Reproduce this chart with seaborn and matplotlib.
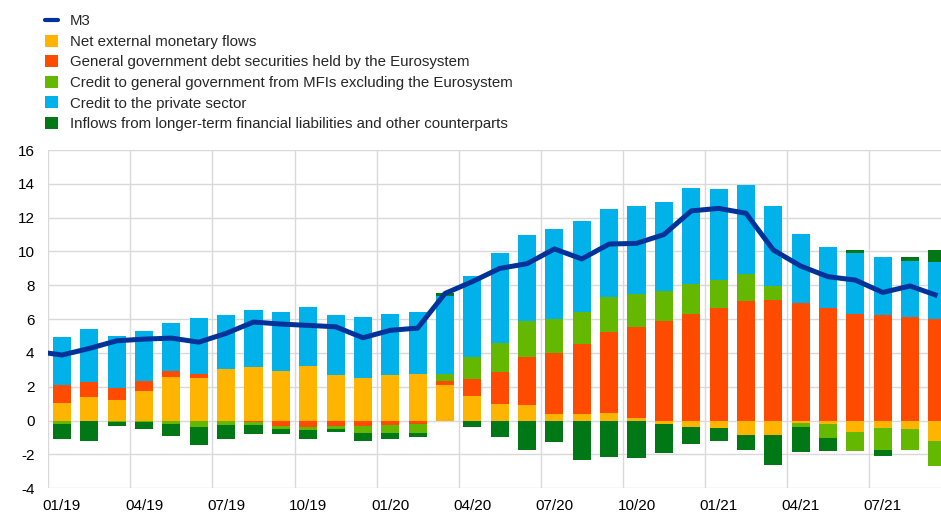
import numpy as np
import pandas as pd
import matplotlib
matplotlib.use("Agg")
import matplotlib.pyplot as plt
from matplotlib.lines import Line2D
from matplotlib.patches import Patch
import seaborn as sns

# ---------------- data ----------------
months = ["01/19", "02/19", "03/19", "04/19", "05/19", "06/19", "07/19", "08/19", "09/19", "10/19",
          "11/19", "12/19", "01/20", "02/20", "03/20", "04/20", "05/20", "06/20", "07/20", "08/20",
          "09/20", "10/20", "11/20", "12/20", "01/21", "02/21", "03/21", "04/21", "05/21", "06/21",
          "07/21", "08/21", "09/21"]
tick_labels = ["01/19", "04/19", "07/19", "10/19", "01/20", "04/20", "07/20", "10/20", "01/21", "04/21", "07/21"]

net_external = [1.02, 1.37, 1.21, 1.77, 2.57, 2.51, 3.05, 3.17, 2.95, 3.23,
                2.71, 2.50, 2.67, 2.77, 2.10, 1.45, 0.99, 0.90, 0.38, 0.38,
                0.44, 0.13, -0.20, -0.36, -0.42, -0.84, -0.84, -0.12, -0.20, -0.66,
                -0.44, -0.50, -1.19]
gov_securities = [1.08, 0.93, 0.71, 0.57, 0.38, 0.22, 0.00, -0.08, -0.29, -0.40,
                  -0.32, -0.32, -0.26, -0.18, 0.24, 0.99, 1.86, 2.86, 3.64, 4.17,
                  4.78, 5.42, 5.89, 6.32, 6.68, 7.09, 7.15, 6.93, 6.68, 6.32,
                  6.22, 6.14, 5.99]
credit_gov = [-0.20, 0.00, -0.08, -0.08, -0.17, -0.35, -0.25, -0.17, -0.19, -0.14,
              -0.20, -0.40, -0.46, -0.56, 0.39, 1.32, 1.75, 2.11, 2.01, 1.89,
              2.11, 1.92, 1.77, 1.76, 1.65, 1.56, 0.81, -0.24, -0.82, -1.16,
              -1.29, -1.26, -1.48]
credit_private = [2.84, 3.13, 3.08, 2.98, 2.82, 3.32, 3.19, 3.39, 3.49, 3.51,
                  3.51, 3.62, 3.65, 3.63, 4.66, 4.80, 5.33, 5.10, 5.30, 5.36,
                  5.20, 5.20, 5.29, 5.66, 5.37, 5.30, 4.73, 4.09, 3.57, 3.59,
                  3.47, 3.28, 3.39]
other = [-0.87, -1.19, -0.24, -0.44, -0.75, -1.10, -0.84, -0.53, -0.30, -0.53,
         -0.16, -0.51, -0.37, -0.22, 0.15, -0.36, -0.97, -1.73, -1.25, -2.30,
         -2.16, -2.18, -1.74, -1.03, -0.81, -0.87, -1.81, -1.48, -0.78, 0.18,
         -0.35, 0.23, 0.71]
# M3 annual growth; first value is 12/18 (just left of the visible range)
m3_months = ["12/18"] + months
m3 = [4.1, 3.88, 4.27, 4.72, 4.82, 4.88, 4.64, 5.16, 5.83, 5.71, 5.63,
      5.55, 4.90, 5.34, 5.47, 7.52, 8.22, 9.00, 9.28, 10.15, 9.56,
      10.44, 10.48, 11.00, 12.40, 12.55, 12.26, 10.09, 9.14, 8.51, 8.31,
      7.58, 7.96, 7.39]

series_names = ["Net external monetary flows",
                "General government debt securities held by the Eurosystem",
                "Credit to general government from MFIs excluding the Eurosystem",
                "Credit to the private sector",
                "Inflows from longer-term financial liabilities and other counterparts"]
series_vals = [net_external, gov_securities, credit_gov, credit_private, other]
colors = ["#FFB400", "#FF4B00", "#65B800", "#00B1EA", "#007816"]
m3_color = "#003299"

# ---------------- style ----------------
sns.set_style("white")
plt.rcParams["font.family"] = ["Liberation Sans", "DejaVu Sans"]
plt.rcParams["axes.unicode_minus"] = False

fig = plt.figure(figsize=(9.41, 5.14), dpi=100)
ax = fig.add_axes([48.3 / 941, 1 - 488.3 / 514, 1 - 48.3 / 941, (488.3 - 150) / 514])

n = len(months)
pos_base = np.zeros(n)
neg_base = np.zeros(n)
for name, vals, col in zip(series_names, series_vals, colors):
    v = np.asarray(vals, dtype=float)
    bottoms = np.where(v >= 0, pos_base, neg_base)
    df = pd.DataFrame({"month": months, "value": v})
    sns.barplot(data=df, x="month", y="value", order=months, color=col,
                width=0.66, bottom=bottoms, linewidth=0, saturation=1,
                errorbar=None, ax=ax, zorder=2)
    pos_base = pos_base + np.where(v > 0, v, 0)
    neg_base = neg_base + np.where(v < 0, v, 0)

line_df = pd.DataFrame({"pos": np.arange(-1, n), "m3": m3})
sns.lineplot(data=line_df, x="pos", y="m3", color=m3_color, linewidth=3.6,
             ax=ax, zorder=3, solid_joinstyle="round", solid_capstyle="butt")

# axes
ax.set_xlim(-0.5, 32.13)
ax.set_ylim(-4, 16)
ax.set_yticks(np.arange(-4, 17, 2))
ax.set_xticks([months.index(t) for t in tick_labels])
ax.set_xticklabels(tick_labels)
ax.set_xlabel("")
ax.set_ylabel("")
ax.tick_params(axis="both", length=0, labelsize=11, colors="#000000")
ax.tick_params(axis="y", pad=10)
ax.tick_params(axis="x", pad=8)

grid_c = "#D9D9D9"
for yv in np.arange(-4, 17, 2):
    ax.axhline(yv, color=grid_c, lw=1.0, zorder=0)
for xv in np.arange(-0.5, 32.2, 3):
    ax.axvline(xv, color=grid_c, lw=1.0, zorder=0)
for s in ax.spines.values():
    s.set_visible(False)

# legend
handles = [Line2D([0], [0], color=m3_color, lw=3)]
handles += [Patch(facecolor=c, edgecolor="none") for c in colors]
labels = ["M3"] + series_names
fig.legend(handles, labels, loc="upper left", bbox_to_anchor=(45 / 941, 1 - 14 / 514),
           frameon=False, fontsize=10.8, handlelength=0.87, handleheight=0.87,
           handletextpad=0.8, labelspacing=0.42, borderaxespad=0, borderpad=0)

fig.savefig("out.png", dpi=100)
